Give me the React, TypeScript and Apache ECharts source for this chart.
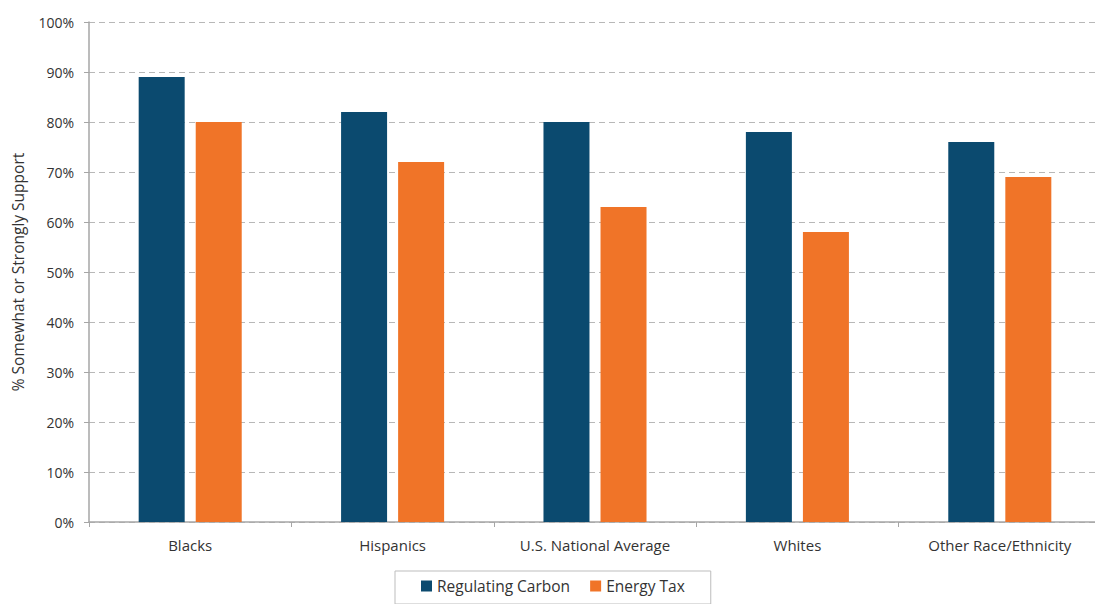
import React, { useEffect, useRef } from "react";
import * as echarts from "echarts";

const categories = ["Blacks", "Hispanics", "U.S. National Average", "Whites", "Other Race/Ethnicity"];
const regulatingCarbon = [89, 82, 80, 78, 76];
const energyTax = [80, 72, 63, 58, 69];
const seriesNames = ["Regulating Carbon", "Energy Tax"];
const yAxisTitle = "% Somewhat or Strongly Support";

const FONT = "'Open Sans', Lato, sans-serif";

export default function App() {
  const ref = useRef<HTMLDivElement>(null);
  useEffect(() => {
    document.body.style.margin = "0";
    const chart = echarts.init(ref.current!, null, { renderer: "svg" });
    chart.setOption({
      animation: false,
      backgroundColor: "#ffffff",
      textStyle: { fontFamily: FONT },
      grid: { left: 89, top: 22, width: 1012, height: 500, containLabel: false, outerBoundsMode: "none" },
      legend: {
        data: seriesNames,
        top: 571,
        left: 395,
        icon: "rect",
        itemWidth: 11,
        itemHeight: 11,
        itemGap: 20,
        borderColor: "#bdbdbd",
        borderWidth: 1,
        padding: [7, 26, 10, 26],
        textStyle: { fontSize: 15.5, color: "#333", fontFamily: FONT },
      },
      xAxis: {
        type: "category",
        data: categories,
        axisLine: { lineStyle: { color: "#a6a6a6", width: 1.5 } },
        axisTick: { show: true, length: 5, lineStyle: { color: "#a6a6a6" } },
        axisLabel: { fontSize: 15, color: "#333", margin: 15, fontFamily: FONT },
      },
      yAxis: {
        type: "value",
        min: 0,
        max: 100,
        interval: 10,
        name: yAxisTitle,
        nameLocation: "middle",
        nameGap: 63,
        nameTextStyle: { fontSize: 15.5, color: "#333", fontFamily: FONT },
        axisLine: { show: true, lineStyle: { color: "#a6a6a6", width: 1.5 } },
        axisTick: { show: true, length: 5, lineStyle: { color: "#a6a6a6" } },
        axisLabel: { formatter: "{value}%", fontSize: 14, color: "#333", margin: 15, fontFamily: FONT },
        splitLine: { show: true, lineStyle: { color: "#b8b8b8", type: [6, 4], width: 1.2 } },
      },
      series: [
        {
          name: seriesNames[0],
          type: "bar",
          data: regulatingCarbon,
          barWidth: 46,
          barGap: "24%",
          itemStyle: { color: "#0b4a6f" },
        },
        {
          name: seriesNames[1],
          type: "bar",
          data: energyTax,
          barWidth: 46,
          itemStyle: { color: "#f07428" },
        },
      ],
    });
    return () => chart.dispose();
  }, []);
  return <div ref={ref} style={{ position: "absolute", left: 0, top: 0, width: 1095, height: 604 }} />;
}
